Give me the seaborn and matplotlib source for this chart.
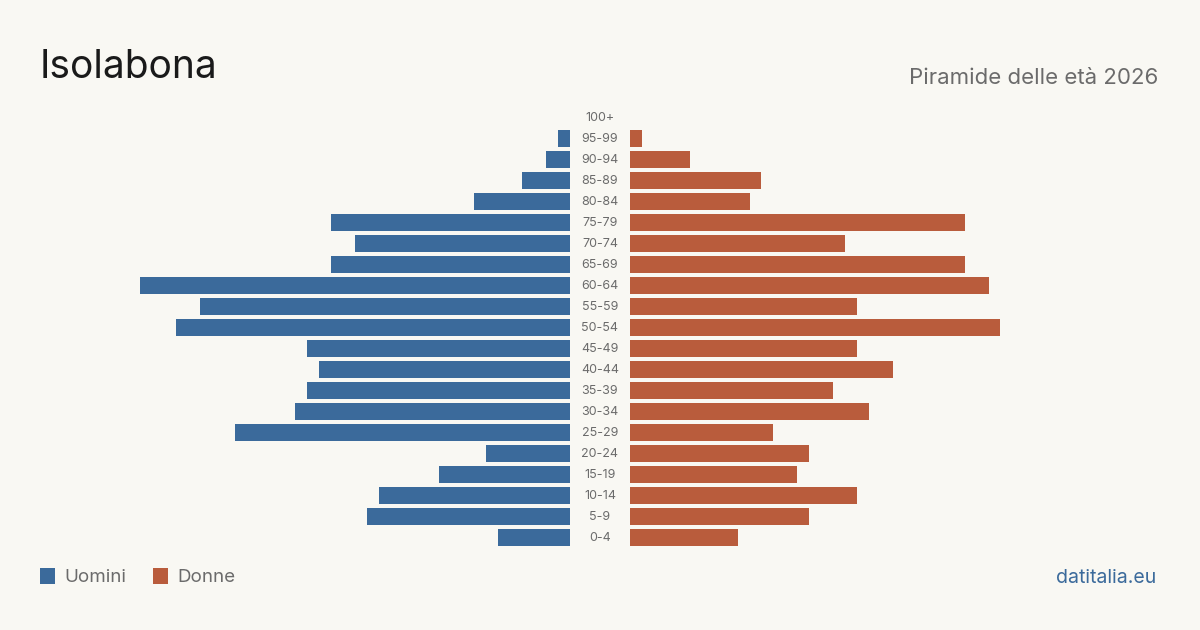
import matplotlib
matplotlib.use("Agg")
import matplotlib.pyplot as plt
import seaborn as sns
import pandas as pd
from matplotlib.patches import Rectangle

age_groups = ["100+", "95-99", "90-94", "85-89", "80-84", "75-79", "70-74", "65-69",
              "60-64", "55-59", "50-54", "45-49", "40-44", "35-39", "30-34", "25-29",
              "20-24", "15-19", "10-14", "5-9", "0-4"]
men = [0, 1, 2, 4, 8, 20, 18, 20, 36, 31, 33, 22, 21, 22, 23, 28, 7, 11, 16, 17, 6]
women = [0, 1, 5, 11, 10, 28, 18, 28, 30, 19, 31, 19, 22, 17, 20, 12, 15, 14, 19, 15, 9]

title = "Isolabona"
subtitle = "Piramide delle età 2026"
legend_labels = ["Uomini", "Donne"]
source = "datitalia.eu"

BLUE = "#3b6a9b"
ORANGE = "#b95c3c"
BG = "#f9f8f3"
GRAY = "#6b6b6b"

sns.set_theme(style="white")
plt.rcParams["font.family"] = ["Inter", "DejaVu Sans"]

df = pd.DataFrame({"age": age_groups, "men": men, "women": women})

fig = plt.figure(figsize=(12, 6.3), dpi=100, facecolor=BG)
W, H = 1200, 630
scale = 11.95  # px per person
xmax = 40
top_px, bot_px = 107, 548
ax_h = (bot_px - top_px) / H
ax_b = (H - bot_px) / H
ax_w = xmax * scale / W

axL = fig.add_axes([(570 - xmax * scale) / W, ax_b, ax_w, ax_h])
axR = fig.add_axes([630 / W, ax_b, ax_w, ax_h])

sns.barplot(data=df, y="age", x="men", order=age_groups, color=BLUE, width=0.82,
            saturation=1, ax=axL, orient="h", linewidth=0, edgecolor="none")
sns.barplot(data=df, y="age", x="women", order=age_groups, color=ORANGE, width=0.82,
            saturation=1, ax=axR, orient="h", linewidth=0, edgecolor="none")

for ax in (axL, axR):
    ax.set_facecolor(BG)
    ax.set_ylim(len(age_groups) - 0.5, -0.5)
    ax.set_xlabel("")
    ax.set_ylabel("")
    ax.set_xticks([])
    ax.set_yticks([])
    for s in ax.spines.values():
        s.set_visible(False)
axL.set_xlim(xmax, 0)
axR.set_xlim(0, xmax)

# middle labels
for i, lab in enumerate(age_groups):
    y_px = top_px + (i + 0.5) * (bot_px - top_px) / len(age_groups)
    fig.text(600 / W, 1 - (y_px + 0.5) / H, lab, ha="center", va="center",
             fontsize=9, color=GRAY)

fig.text(40 / W, 1 - 67 / H, title, fontsize=28, color="#1a1a1a", ha="left", va="center")
fig.text(1158 / W, 1 - 77.5 / H, subtitle, fontsize=16, color=GRAY, ha="right", va="center")

# legend
for x0, col, lab in [(40, BLUE, legend_labels[0]), (153, ORANGE, legend_labels[1])]:
    fig.patches.append(Rectangle((x0 / W, 1 - 584 / H), 15 / W, 16 / H,
                                 transform=fig.transFigure, color=col, linewidth=0))
    fig.text((x0 + 24) / W, 1 - 578 / H, lab, fontsize=13.5, color=GRAY,
             ha="left", va="center")

fig.text(1156 / W, 1 - 578 / H, source, fontsize=14, color=BLUE, ha="right", va="center")

fig.savefig("out.png", dpi=100, facecolor=BG)
